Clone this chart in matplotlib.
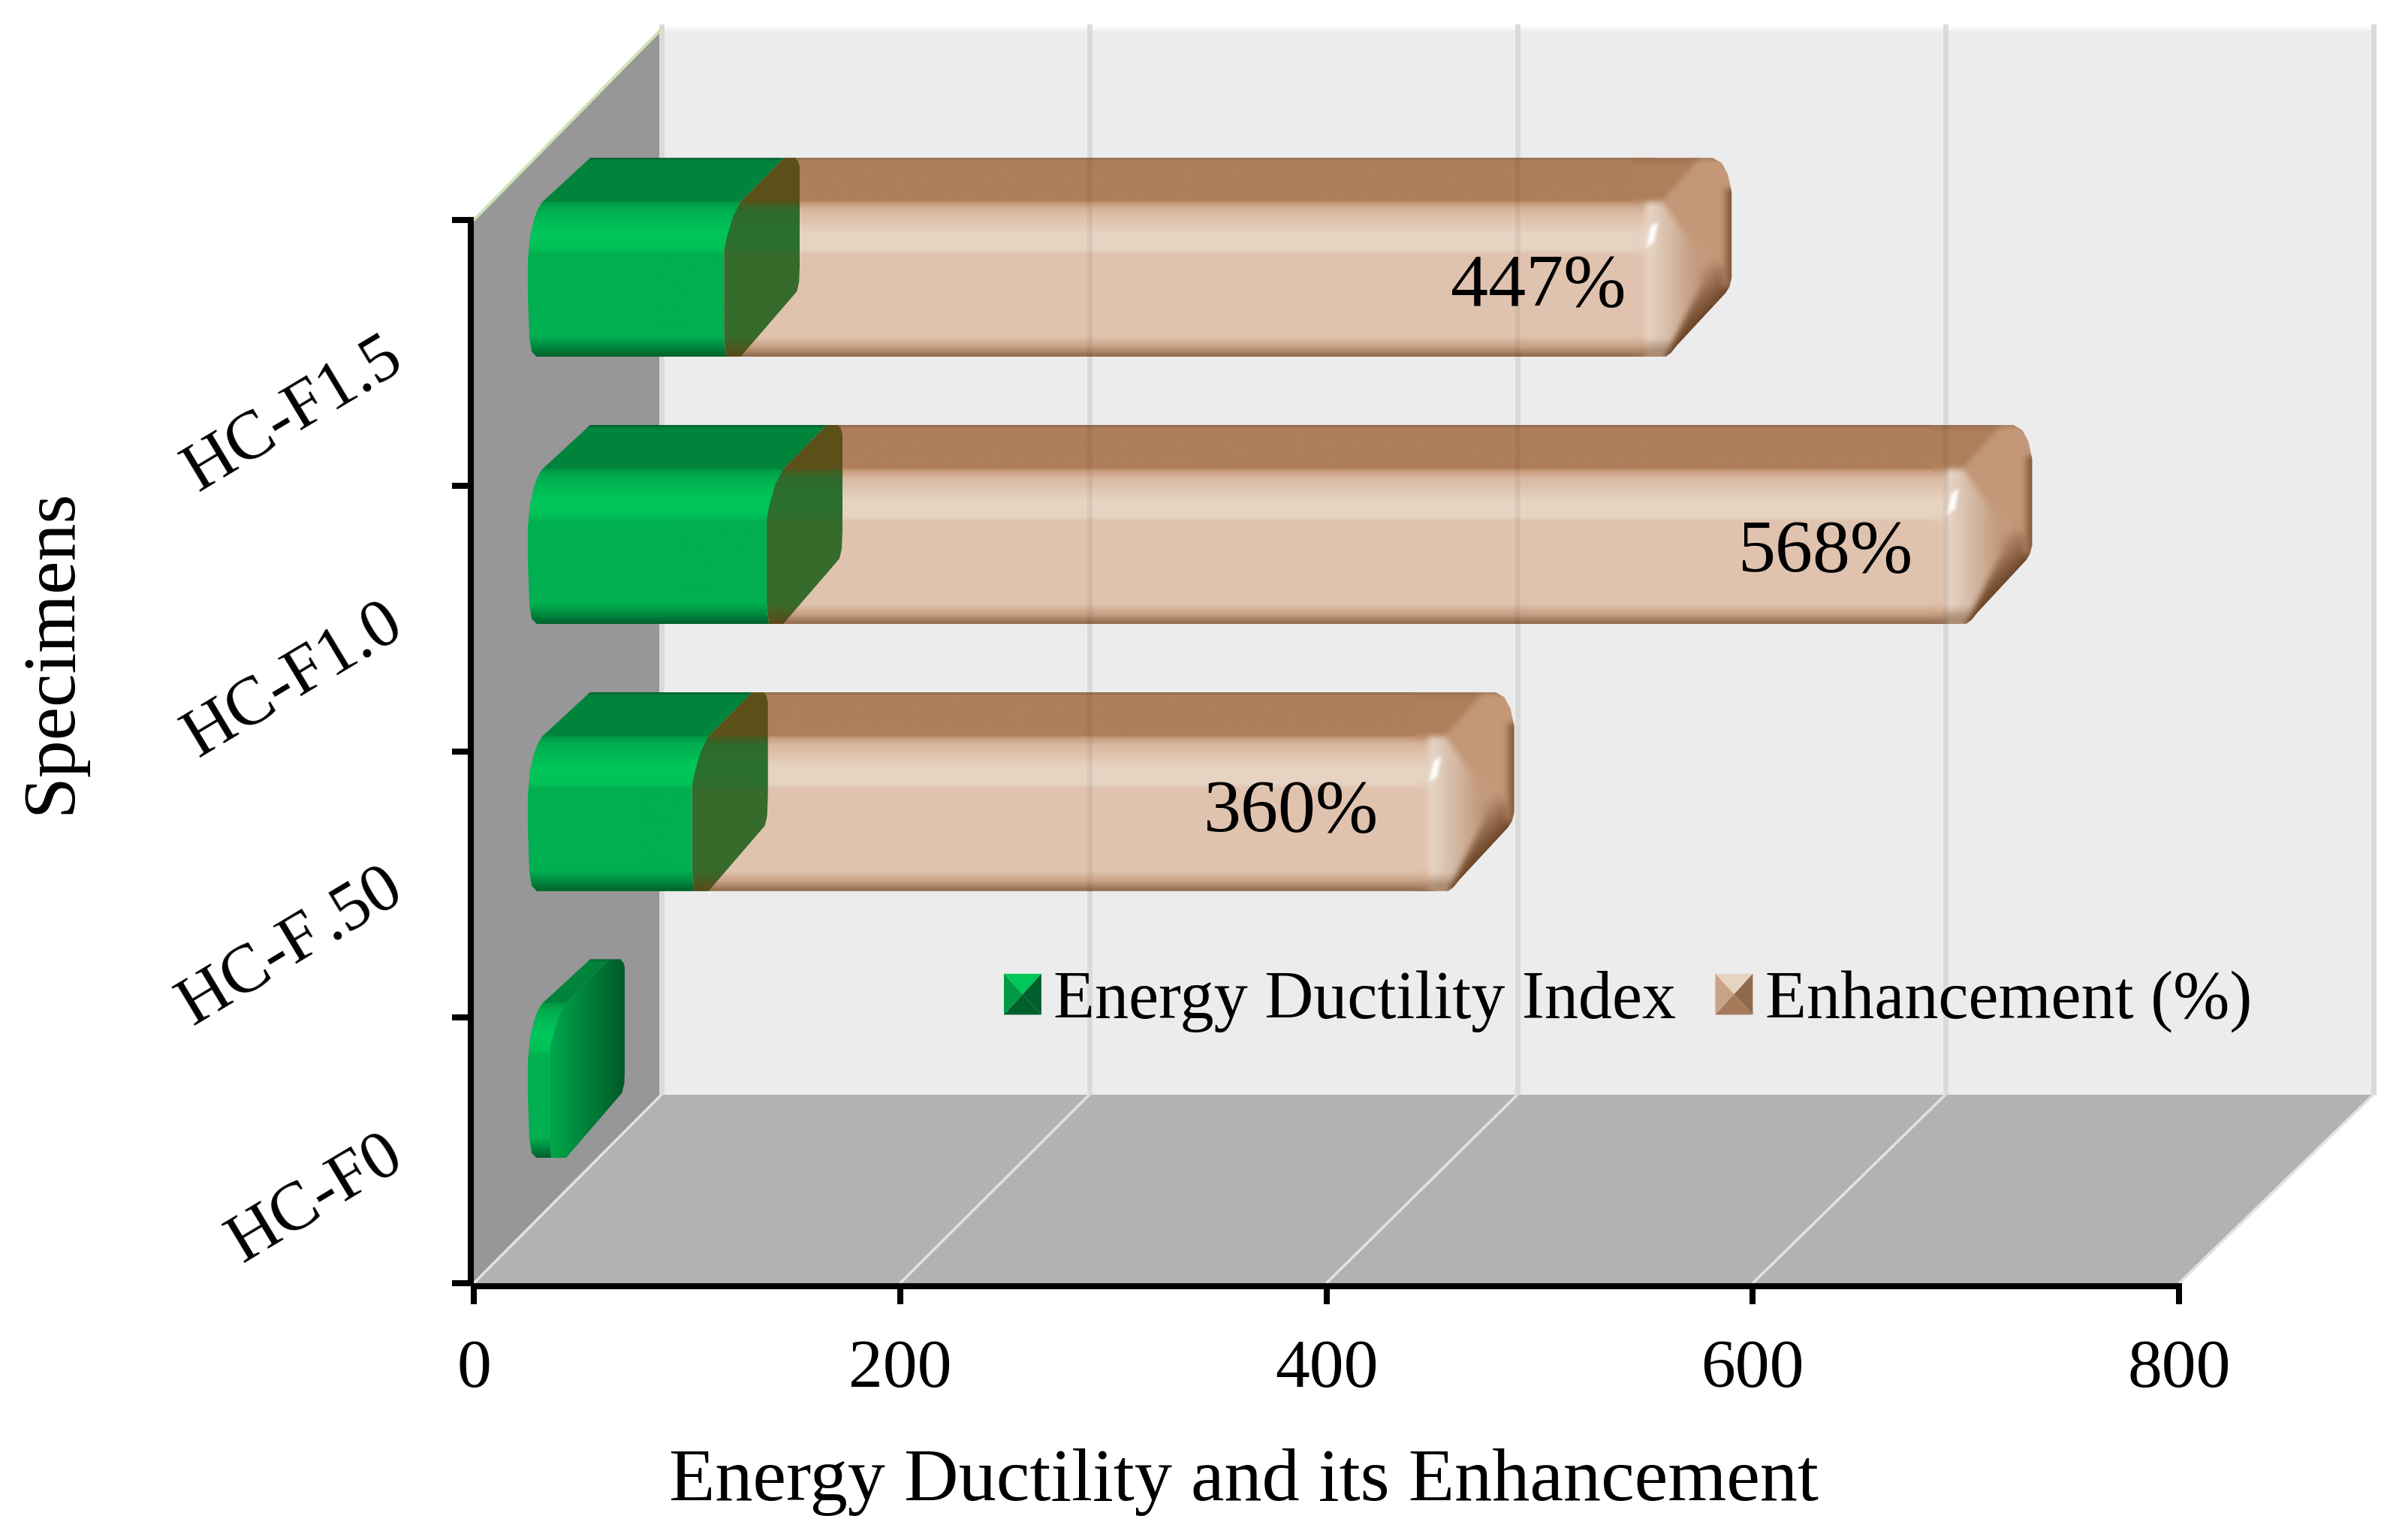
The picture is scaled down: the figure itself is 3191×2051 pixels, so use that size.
import numpy as np
import matplotlib
matplotlib.use("Agg")
import matplotlib.pyplot as plt
from matplotlib.colors import to_rgb
from matplotlib.patches import Polygon, Patch
from matplotlib.path import Path
from matplotlib.legend_handler import HandlerBase

plt.rcParams['font.family'] = ['Liberation Serif', 'DejaVu Serif']

categories = ['HC-F0', 'HC-F\u200a.50', 'HC-F1.0', 'HC-F1.5']
ductility = [10, 77, 112, 92]
enhancement = [0, 360, 568, 447]
x_ticks = [0, 200, 400, 600, 800]
x_title = 'Energy Ductility and its Enhancement'
y_title = 'Specimens'
series_names = ['Energy Ductility Index', 'Enhancement (%)']

W, H = 3191, 2051
fig = plt.figure(figsize=(W / 100, H / 100), dpi=100, facecolor='white')
ax = fig.add_axes([631 / W, (H - 1709) / H, 2271 / W, 1416 / H], facecolor='none')
ax.set_xlim(0, 800)
ax.set_ylim(0, 4)
SX, SY = 2271 / 800, 1416 / 4

# ---- 3D room
DEPTH_X, DEPTH_Y, BACK_SCALE, WALL_TOP = 88.0, 0.709, 1.004, 4.718


def back(v):
    return v * BACK_SCALE + DEPTH_X


def wall(verts, color, z=1):
    ax.add_patch(Polygon(verts, closed=True, fc=color, ec='none', clip_on=False, zorder=z))


wall([(0, 0), (back(0), DEPTH_Y), (back(0), WALL_TOP), (0, 4)], '#979797')
wall([(0, 0), (back(0), DEPTH_Y), (back(800), DEPTH_Y), (800, 0)], '#B2B2B2')
wall([(back(0), DEPTH_Y), (back(800), DEPTH_Y), (back(800), WALL_TOP), (back(0), WALL_TOP)], '#ECECEC')
ax.plot([back(0), back(800)], [WALL_TOP] * 2, color='#F5F5F5', lw=3, clip_on=False, zorder=2)
for v in x_ticks:
    ax.plot([back(v)] * 2, [DEPTH_Y, WALL_TOP + 0.02], color='#DADADA', lw=5.0, clip_on=False, zorder=2,
            solid_capstyle='butt')
    ax.plot([v, back(v)], [0, DEPTH_Y], color='#E2E3DC', lw=2.6, clip_on=False, zorder=2,
            solid_capstyle='butt')
ax.plot([0, back(0)], [4, WALL_TOP], color='#CDE3B8', lw=2.8, clip_on=False, zorder=2)

# ---- bar shading
BAR_START = 25.4
H_BAR = 265
ROW_STRETCH = 1.005

TAN = ['#8F6A4C', '#AF7E5B', '#AF7E5B', '#C49A78', '#D9B89F', '#E6D3C2', '#E6D3C2', '#E0C3AF',
       '#E0C3AF', '#C9A285', '#8F6A4C']
GREEN = ['#00602B', '#00843C', '#00843C', '#009A46', '#00AF50', '#00C75A', '#00C058', '#00AF50',
         '#00AF50', '#008A40', '#00602B']
OLIVE = ['#5C5019', '#5C5019', '#5C5019', '#4A5A20', '#2F6A2C', '#2A7030', '#2E6E2E', '#366B2C',
         '#366B2C', '#4A5A20', '#5A4A18']
STOPS = [0, 4, 57, 60, 70, 100, 122, 128, 238, 252, 265]


def vramp(cols):
    rows = np.arange(H_BAR + 1)
    rgb = np.array([to_rgb(c) for c in cols])
    return np.stack([np.interp(rows, STOPS, rgb[:, k]) for k in range(3)], axis=1)[:, None, :]


def ramp2(c1, c2, n=64):
    a, b = np.array(to_rgb(c1)), np.array(to_rgb(c2))
    t = np.linspace(0, 1, n)[:, None]
    return (a * (1 - t) + b * t)[None, :, :]


def blur(img, r):
    k = np.ones(2 * r + 1) / (2 * r + 1)
    out = img.copy()
    for _ in range(2):
        for axis in (0, 1):
            pad = [(r, r) if a == axis else (0, 0) for a in range(3)]
            padded = np.pad(out, pad, mode='edge')
            out = np.apply_along_axis(lambda m: np.convolve(m, k, mode='valid'), axis, padded)
    return out


# shaded rounded end of a bar, in pixel offsets from the end of the front face
OX0, OX1 = -70, 80
ox_grid, oy_grid = np.meshgrid(np.arange(OX0, OX1 + 1), np.arange(0, H_BAR + 1))
grid_xy = np.column_stack([ox_grid.ravel(), oy_grid.ravel()])


def facet(poly):
    return Path(poly).contains_points(grid_xy).reshape(ox_grid.shape)


def build_end_image():
    img = np.repeat(vramp(TAN), ox_grid.shape[1], axis=1).copy()
    # lit rounded corner
    m = facet([(-41, 58), (-20, 58), (14, 105), (35, 165), (-15, 266), (-41, 266)])
    t = np.clip((ox_grid + 41) / 76.0, 0, 1)[..., None]
    lit = (1 - t) * np.array(to_rgb('#E8D8CA')) + t * np.array(to_rgb('#BE9374'))
    fade = np.clip((265 - oy_grid) / 24.0, 0.35, 1)[..., None]
    img[m] = (lit * fade + (1 - fade) * np.array(to_rgb('#8F6A4C')))[m]
    # upper facet
    m = facet([(-20, 58), (31, 0), (90, 0), (90, 185), (35, 115), (14, 105)])
    img[m] = np.array(to_rgb('#C39879'))
    # lower facet
    m = facet([(14, 105), (35, 115), (90, 185), (90, 266), (-15, 266), (35, 165)])
    t = np.clip((ox_grid + oy_grid - 180) / 70.0, 0, 1)[..., None]
    low = (1 - t) * np.array(to_rgb('#C49B7D')) + t * np.array(to_rgb('#6A4226'))
    img[m] = low[m]
    # dark right rim
    m = facet([(62, 40), (90, 40), (90, 190), (62, 170)])
    t = np.clip((ox_grid - 62) / 11.0, 0, 1)[..., None]
    img[m] = ((1 - t) * np.array(to_rgb('#B98C6B')) + t * np.array(to_rgb('#7C5335')))[m]
    img = blur(img, 4)
    # specular spot
    spot = np.zeros(ox_grid.shape)
    spot[facet([(-41, 120), (-35, 92), (-25, 84), (-30, 112)])] = 1.0
    spot = blur(spot[..., None], 2)
    img = img * (1 - spot) + spot
    return np.clip(img, 0, 1)


END_IMG = build_end_image()


def top_of(i):
    """Data y of the top edge of bar i (rows are spread slightly by the projection)."""
    return 3 + 1.234 - (3 - i) * ROW_STRETCH


def pts(anchor, i, offsets):
    return [(anchor + ox / SX, top_of(i) - oy / SY) for ox, oy in offsets]


def clipped(im, verts):
    im.set_clip_box(fig.bbox)
    im.set_clip_path(Polygon(verts, closed=True, transform=ax.transData, fc='none', ec='none'))


def painted(verts, img, z):
    arr = np.array(verts)
    ext = (arr[:, 0].min(), arr[:, 0].max(), arr[:, 1].min(), arr[:, 1].max())
    im = ax.imshow(img, extent=ext, origin='upper', aspect='auto', interpolation='bilinear', zorder=z)
    clipped(im, verts)


def band_painted(verts, i, img, z):
    arr = np.array(verts)
    ext = (arr[:, 0].min(), arr[:, 0].max(), top_of(i) - H_BAR / SY, top_of(i))
    im = ax.imshow(img, extent=ext, origin='upper', aspect='auto', interpolation='bilinear', zorder=z)
    clipped(im, verts)


LEFT = [(12, 265), (5, 258), (2, 238), (0, 180), (0, 137), (3, 105), (8, 83), (13, 69), (19, 59), (83, 0)]
CAP = [(3, 265), (22, 265), (97, 178), (100, 165), (101, 137), (101, 13), (99, 5), (95, 0), (80, 0),
       (22, 59), (12, 78), (4, 105), (0, 125), (0, 238)]
END = [(-60, 0), (48, 0), (60, 7), (68, 22), (73, 45), (73, 160), (70, 172), (65, 180), (0, 250),
       (-8, 260), (-15, 265), (-60, 265)]

for i, (g, e) in enumerate(zip(ductility, enhancement)):
    xg = BAR_START + g
    xe = xg + e
    body = pts(BAR_START, i, LEFT) + pts(xg, i, [(80, 0), (22, 59), (0, 125), (0, 238), (3, 265)])
    tan_out = None
    if e:
        tan_out = pts(xg, i, [(3, 265), (0, 238), (0, 125), (22, 59), (80, 0)]) + \
            pts(xe, i, [(-30, 0), (-30, 265)])
    # flat faces from the library's own bars, shaded over below
    yc = top_of(i) - (H_BAR + 59) / 2 / SY
    hh = (H_BAR - 59) / SY
    for bar in ax.barh(yc, g, left=BAR_START, height=hh, color='#00AF50', zorder=3):
        bar.set_clip_box(fig.bbox)
        bar.set_clip_path(Polygon(body, closed=True, transform=ax.transData))
    if e:
        for bar in ax.barh(yc, e, left=xg, height=hh, color='#E0C3AF', zorder=3):
            bar.set_clip_box(fig.bbox)
            bar.set_clip_path(Polygon(tan_out, closed=True, transform=ax.transData))
        band_painted(tan_out, i, vramp(TAN), 4)
        end_verts = pts(xe, i, END)
        im = ax.imshow(END_IMG, extent=(xe + OX0 / SX, xe + OX1 / SX, top_of(i) - H_BAR / SY, top_of(i)),
                       origin='upper', aspect='auto', interpolation='bilinear', zorder=5)
        clipped(im, end_verts)
    band_painted(body, i, vramp(GREEN), 7)
    cap = pts(xg, i, CAP)
    if e:
        band_painted(cap, i, vramp(OLIVE), 8)
    else:
        painted(cap, ramp2('#00A84C', '#005A28'), 8)
    # back-wall grid lines seen through the bars
    for v in x_ticks[1:]:
        gx = back(v)
        if xg + 22 / SX < gx < xe + 40 / SX:
            ax.plot([gx, gx], [top_of(i) - H_BAR / SY, top_of(i)], color='black', alpha=0.05,
                    lw=5, zorder=9, clip_on=False, solid_capstyle='butt')

# ---- data labels
for i, (g, e, off, off_y) in enumerate(zip(ductility, enhancement, [0, -79, -71, -65], [0, .768, .745, .745])):
    if e:
        ax.text(BAR_START + g + e + off, i + off_y, f'{e}%', ha='center', va='center',
                fontsize=72, color='black', zorder=12)

ax.set_xlim(0, 800)
ax.set_ylim(0, 4)

# ---- axes furniture
for s in ('top', 'right'):
    ax.spines[s].set_visible(False)
for s in ('left', 'bottom'):
    ax.spines[s].set_linewidth(5.8)
    ax.spines[s].set_position(('outward', 3))
    ax.spines[s].set_zorder(10)
ax.set_xticks(x_ticks)
ax.set_xticklabels([str(v) for v in x_ticks])
ax.set_yticks([0, 1, 2, 3, 4])
ax.set_yticklabels([])
ax.tick_params(axis='x', length=17, width=5.8, labelsize=66, pad=34)
ax.tick_params(axis='y', length=18, width=5.8)
ax.set_yticks([i + 0.5 for i in range(4)], minor=True)
ax.set_yticklabels(categories, minor=True)
ax.tick_params(axis='y', which='minor', length=0, labelsize=66, pad=70)
for lab in ax.get_yticklabels(minor=True):
    lab.set_rotation(31)
    lab.set_rotation_mode('anchor')
    lab.set_ha('right')
    lab.set_va('center')

ax.set_xlabel(x_title, fontsize=72.3)
ax.xaxis.set_label_coords((1656 - 631) / 2271, -(1974 - 1709) / 1416)
ax.xaxis.label.set_va('center')
ax.set_ylabel(y_title, fontsize=72)
ax.yaxis.set_label_coords((69 - 631) / 2271, (1709 - 867) / 1416)
ax.yaxis.label.set_va('center')


# ---- legend
class Pyramid(HandlerBase):
    def __init__(self, top, left, right, bottom):
        super().__init__()
        self.c = (top, left, right, bottom)

    def create_artists(self, legend, orig, xd, yd, w, h, fs, trans):
        x0, y0 = -xd, -yd
        x1, y1 = x0 + w, y0 + h
        cx, cy = x0 + w / 2, y0 + h * 0.5
        tris = [[(x0, y1), (x1, y1), (cx, cy)], [(x0, y0), (x0, y1), (cx, cy)],
                [(x1, y0), (x1, y1), (cx, cy)], [(x0, y0), (x1, y0), (cx, cy)]]
        return [Polygon(t, closed=True, fc=c, ec='none', transform=trans) for t, c in zip(tris, self.c)]


h1, h2 = Patch(label=series_names[0]), Patch(label=series_names[1])
leg = ax.legend(handles=[h1, h2], ncol=2, frameon=False, fontsize=64.9,
                handler_map={h1: Pyramid('#00C75A', '#009A46', '#005F2C', '#00602B'),
                             h2: Pyramid('#E6D3C2', '#C9A285', '#8F6A4C', '#A47A5B')},
                loc='center left', bbox_to_anchor=((1337 - 631) / 2271, (1709 - 1334) / 1416),
                borderpad=0, borderaxespad=0, handlelength=0.554, handleheight=0.554,
                handletextpad=0.18, columnspacing=0.58)
leg.set_zorder(12)

fig.savefig('out.png', dpi=100)
